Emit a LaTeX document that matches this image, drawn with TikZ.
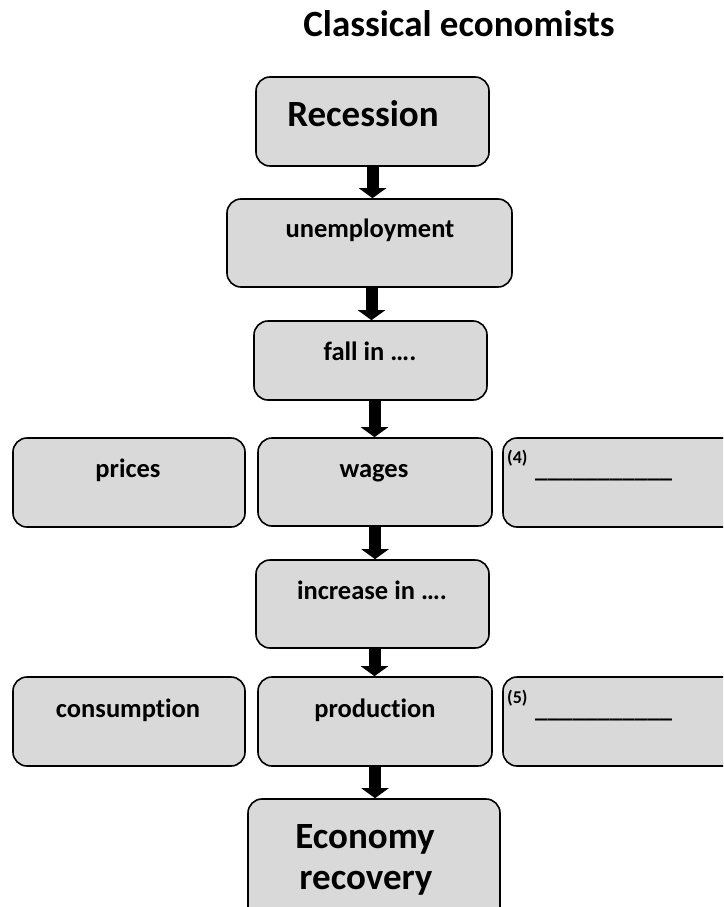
\documentclass[tikz,border=0pt]{standalone}
\usepackage{fontspec}
\setmainfont{Carlito}[Ligatures={NoCommon}]
\usetikzlibrary{arrows.meta}
\definecolor{boxgray}{HTML}{D9D9D9}
\begin{document}
\begin{tikzpicture}[x=1pt,y=-1pt,
  box/.style={draw=black, fill=boxgray, rounded corners=14pt, line width=1.6pt, inner sep=0pt},
  flow/.style={line width=12pt, -{Triangle[width=27pt,length=10pt]}},
  txt/.style={anchor=base, inner sep=0pt, font=\bfseries\fontsize{26.5}{32}\selectfont},
  bigtxt/.style={anchor=base, inner sep=0pt, font=\bfseries\fontsize{37}{44}\selectfont},
  small/.style={anchor=base west, inner sep=0pt, font=\bfseries\fontsize{18}{22}\selectfont},
  blank/.style={anchor=base west, inner sep=0pt, font=\bfseries\fontsize{25}{30}\selectfont}]
\useasboundingbox (0,0) rectangle (723,907);
\clip (0,0) rectangle (723,907);
\fill[white] (0,0) rectangle (723,907);
% title
\node[anchor=base, inner sep=0pt, font=\bfseries\fontsize{37}{44}\selectfont] (title) at (459,37) {Classical economists};
% boxes
\node[box, minimum width=233pt, minimum height=89pt] (rec) at (372.5,121.5) {};
\node[box, minimum width=285pt, minimum height=88pt] (unemp) at (369.5,243) {};
\node[box, minimum width=233pt, minimum height=79pt] (fall) at (370.5,360.5) {};
\node[box, minimum width=232pt, minimum height=89pt] (prices) at (129,482.5) {};
\node[box, minimum width=234pt, minimum height=88pt] (wages) at (375,482) {};
\node[box, minimum width=247pt, minimum height=89pt] (four) at (626.5,482.5) {};
\node[box, minimum width=233pt, minimum height=88pt] (incr) at (372.5,604) {};
\node[box, minimum width=232pt, minimum height=89pt] (cons) at (129,721.5) {};
\node[box, minimum width=234pt, minimum height=89pt] (prod) at (375,721.5) {};
\node[box, minimum width=247pt, minimum height=89pt] (five) at (626.5,721.5) {};
\node[box, minimum width=252pt, minimum height=151pt] (econ) at (374,874.5) {};
% texts
\node[bigtxt] (trec) at (363,126) {Recession};
\node[txt] (tunemp) at (370,237) {unemployment};
\node[txt] (tfall) at (370,360) {fall in ….};
\node[txt] (tprices) at (128,477) {prices};
\node[txt] (twages) at (374,477) {wages};
\node[small] (tfour) at (507,463) {(4)};
\node[blank] (ufour) at (535,477) {\_\_\_\_\_\_\_\_\_\_\_};
\node[txt] (tincr) at (372,599) {increase in ….};
\node[txt] (tcons) at (128,717) {consumption};
\node[txt] (tprod) at (375,717) {production};
\node[small] (tfive) at (507,703) {(5)};
\node[blank] (ufive) at (535,717) {\_\_\_\_\_\_\_\_\_\_\_};
\node[bigtxt] (teco1) at (365,848) {Economy};
\node[bigtxt] (teco2) at (366,889) {recovery};
% arrows
\draw[flow] (rec.south) -- (rec.south |- unemp.north);
\draw[flow] ([xshift=2pt]unemp.south) -- ([xshift=2pt]unemp.south |- fall.north);
\draw[flow] ([xshift=4pt]fall.south) -- ([xshift=4pt]fall.south |- wages.north);
\draw[flow] (wages.south) -- (wages.south |- incr.north);
\draw[flow] ([xshift=2pt]incr.south) -- ([xshift=2pt]incr.south |- prod.north);
\draw[flow] (prod.south) -- (prod.south |- econ.north);
\end{tikzpicture}
\end{document}
